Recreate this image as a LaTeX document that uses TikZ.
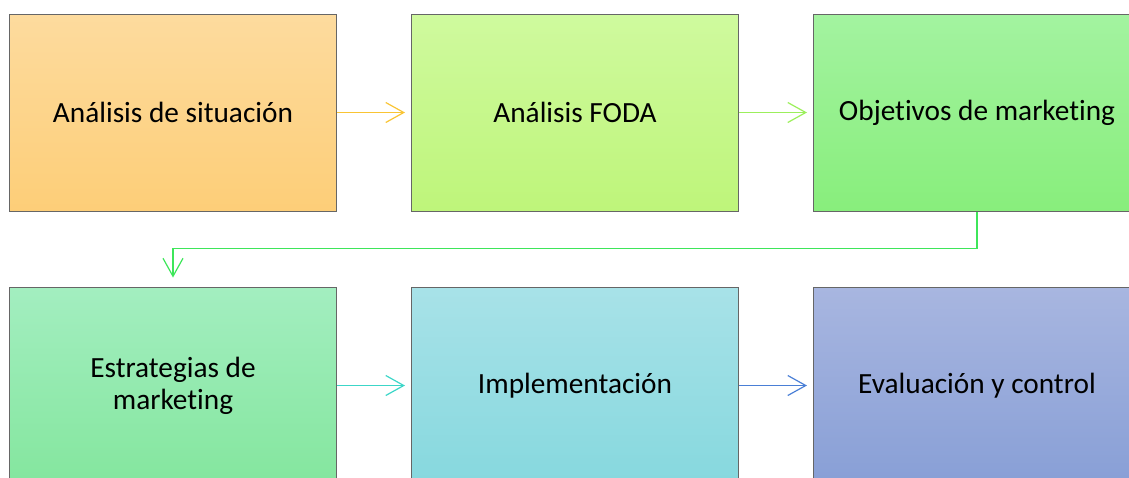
\documentclass[tikz,border=0pt]{standalone}
\usepackage{fontspec}
\setmainfont{Carlito}[Ligatures={NoCommon}]
\usetikzlibrary{positioning, arrows.meta}
\definecolor{sitTop}{HTML}{FDDB9E}
\definecolor{sitBot}{HTML}{FDCE78}
\definecolor{fodaTop}{HTML}{CFFA9E}
\definecolor{fodaBot}{HTML}{BEF57A}
\definecolor{objTop}{HTML}{A3F3A0}
\definecolor{objBot}{HTML}{88EE7C}
\definecolor{estTop}{HTML}{A3EEC0}
\definecolor{estBot}{HTML}{84E69E}
\definecolor{impTop}{HTML}{A8E2E8}
\definecolor{impBot}{HTML}{86D8DE}
\definecolor{evaTop}{HTML}{A8B6E0}
\definecolor{evaBot}{HTML}{889FD6}
\definecolor{Gold}{HTML}{F9C434}
\definecolor{Lime}{HTML}{9CEF5C}
\definecolor{Green}{HTML}{3EE65A}
\definecolor{Teal}{HTML}{3CD6C8}
\definecolor{Blue}{HTML}{4A7FD6}
\tikzstyle{stage}=[%
      rectangle, draw=black!60, line width=1pt,
      minimum width=327pt, minimum height=197pt, inner sep=6pt,
      align=center, font=\fontsize{29.3}{32}\selectfont
]

\begin{document}
\begin{tikzpicture}[auto,
    node distance=75pt and 74pt,
    -{Straight Barb[length=18pt,width=20pt]},
    shorten >=6pt, line width=1.2pt
  ]
    \clip (0,0) rectangle (1129pt,-477pt);
    \node[stage, top color=sitTop, bottom color=sitBot] (sit) at (173pt,-112.5pt) {Análisis de situación};
    \node[stage, top color=fodaTop, bottom color=fodaBot] (foda) [right = of sit] {Análisis FODA};
    \node[stage, top color=objTop, bottom color=objBot] (obj) [right = of foda] {Objetivos de marketing};
    \node[stage, top color=estTop, bottom color=estBot] (est) [below = of sit] {Estrategias de\\marketing};
    \node[stage, top color=impTop, bottom color=impBot] (imp) [right = of est] {Implementación};
    \node[stage, top color=evaTop, bottom color=evaBot] (eva) [right = of imp] {Evaluación y control};

    \path (sit) edge[Gold] (foda)
          (foda) edge[Lime] (obj)
          (est) edge[Teal] (imp)
          (imp) edge[Blue] (eva)
    ;
    \draw[Green, shorten >=9pt] (obj.south) -- ++(0,-37pt) -| (est.north);

  \end{tikzpicture}
\end{document}
